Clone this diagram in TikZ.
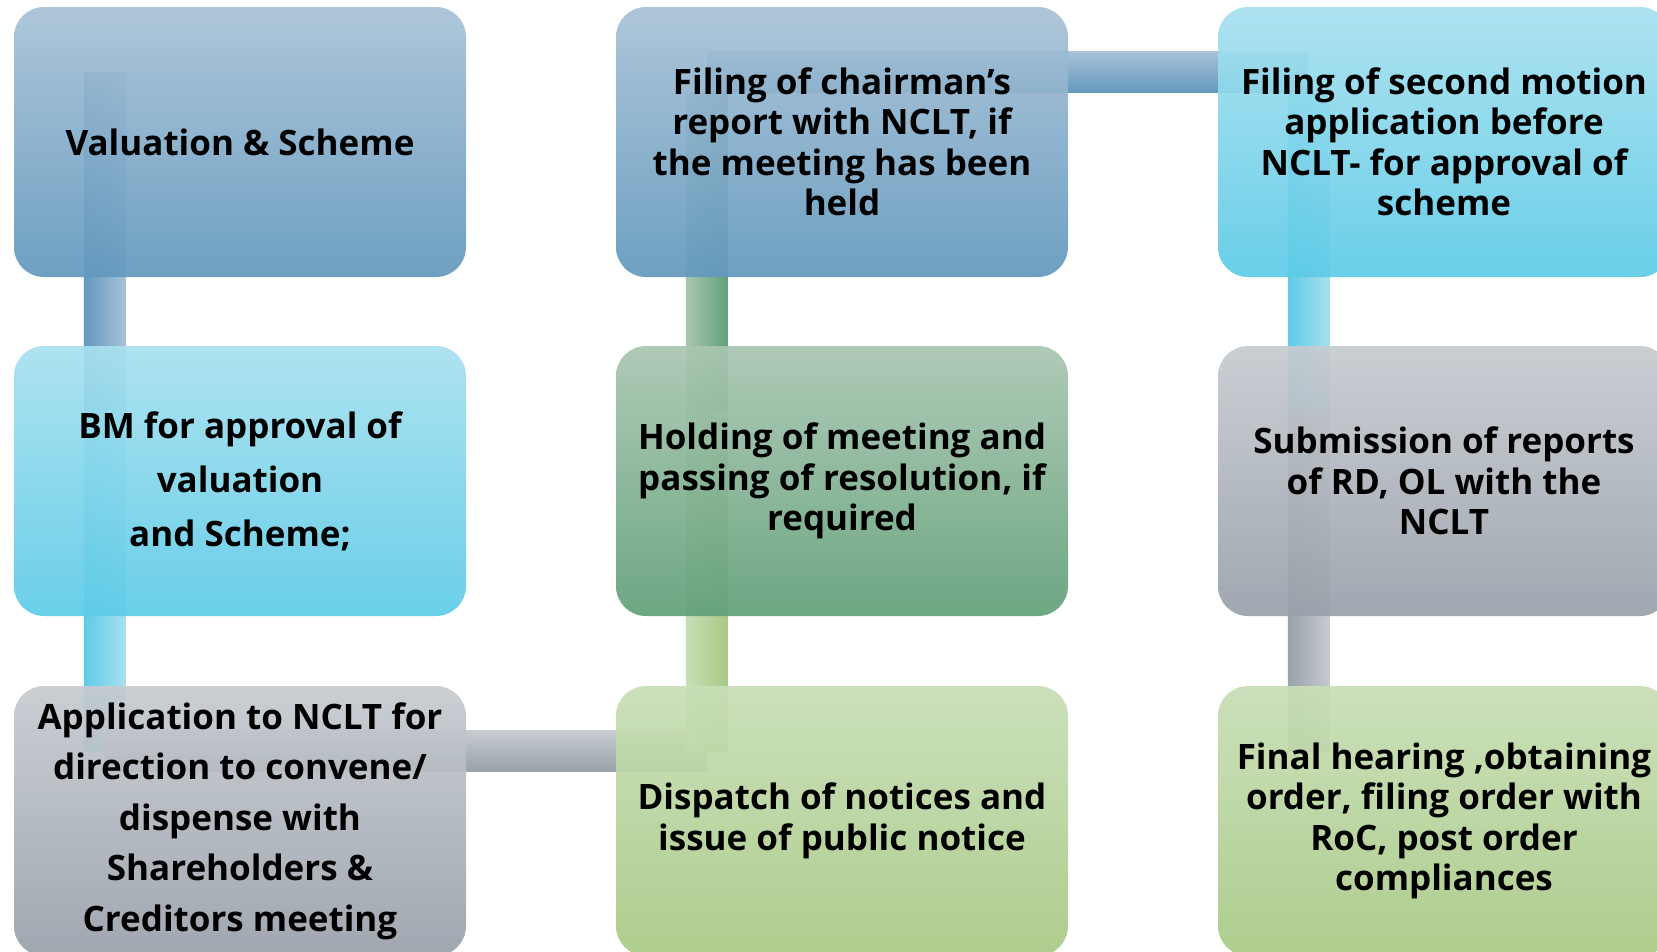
\documentclass[tikz,border=0pt]{standalone}
\usepackage{fontspec}
\setmainfont{Open Sans}
\usetikzlibrary{backgrounds}

\definecolor{blueTop}{HTML}{A8C1D6}
\definecolor{blueBot}{HTML}{6399BE}
\definecolor{cyanTop}{HTML}{A8E0EF}
\definecolor{cyanBot}{HTML}{5ECBE7}
\definecolor{grayTop}{HTML}{C6CBD0}
\definecolor{grayBot}{HTML}{99A1AA}
\definecolor{greenTop}{HTML}{A9C6B1}
\definecolor{greenBot}{HTML}{62A07A}
\definecolor{limeTop}{HTML}{C8DEB6}
\definecolor{limeBot}{HTML}{A8C985}

\begin{document}
\begin{tikzpicture}[x=1pt,y=1pt]
        \tikzset{box/.style = {rectangle, rounded corners=30pt, minimum width=452pt, minimum height=270pt,
                 inner sep=0pt, align=center, fill opacity=0.93, text opacity=1,
                 font=\fontsize{35}{40.5}\selectfont\bfseries}}
        \tikzset{bluebox/.style = {box, top color=blueTop, bottom color=blueBot}}
        \tikzset{cyanbox/.style = {box, top color=cyanTop, bottom color=cyanBot}}
        \tikzset{graybox/.style = {box, top color=grayTop, bottom color=grayBot}}
        \tikzset{greenbox/.style = {box, top color=greenTop, bottom color=greenBot}}
        \tikzset{limebox/.style = {box, top color=limeTop, bottom color=limeBot}}
        \useasboundingbox (0,0) rectangle (1657,-951);
        % boxes
        \node[bluebox] (val) at (240,-142) {Valuation \& Scheme};
        \node[cyanbox, font=\fontsize{35}{54}\selectfont\bfseries] (bm) at (240,-481)
            {BM for approval of\\ valuation\\ and Scheme;};
        \node[graybox, font=\fontsize{35}{50.5}\selectfont\bfseries] (app) at (240,-821)
            {Application to NCLT for\\ direction to convene/\\ dispense with\\ Shareholders \&\\ Creditors meeting};
        \node[limebox] (disp) at (842,-821) {Dispatch of notices and\\ issue of public notice};
        \node[greenbox] (hold) at (842,-481) {Holding of meeting and\\ passing of resolution, if\\ required};
        \node[bluebox] (chair) at (842,-142)
            {Filing of chairman’s\\ report with NCLT, if\\ the meeting has been\\ held};
        \node[cyanbox] (second) at (1444,-142)
            {Filing of second motion\\ application before\\ NCLT- for approval of\\ scheme};
        \node[graybox] (subm) at (1444,-481)
            {Submission of reports\\ of RD, OL with the\\ NCLT};
        \node[limebox] (final) at (1444,-821)
            {Final hearing ,obtaining\\ order, filing order with\\ RoC, post order\\ compliances};
        % connectors
        \begin{scope}[on background layer]
        \shade[left color=blueBot, right color=blueTop]
            ([xshift=70pt,yshift=-66pt]val.north west) rectangle ([xshift=112pt,yshift=-65pt]bm.north west);
        \shade[left color=cyanBot, right color=cyanTop]
            ([xshift=70pt,yshift=-65pt]bm.north west) rectangle ([xshift=112pt,yshift=-66pt]app.north west);
        \shade[top color=grayTop, bottom color=grayBot]
            ([xshift=91pt,yshift=-45pt]app.north west) rectangle ([xshift=91pt,yshift=-86pt]disp.north west);
        \shade[left color=limeTop, right color=limeBot]
            ([xshift=70pt,yshift=-66pt]disp.north west) rectangle ([xshift=112pt,yshift=-65pt]hold.north west);
        \shade[left color=greenTop, right color=greenBot]
            ([xshift=70pt,yshift=-65pt]hold.north west) rectangle ([xshift=112pt,yshift=-86pt]chair.north west);
        \shade[top color=blueTop, bottom color=blueBot]
            ([xshift=91pt,yshift=-45pt]chair.north west) rectangle ([xshift=90pt,yshift=-86pt]second.north west);
        \shade[left color=cyanBot, right color=cyanTop]
            ([xshift=70pt,yshift=-86pt]second.north west) rectangle ([xshift=112pt,yshift=-65pt]subm.north west);
        \shade[left color=grayBot, right color=grayTop]
            ([xshift=70pt,yshift=-65pt]subm.north west) rectangle ([xshift=112pt,yshift=-66pt]final.north west);
        \end{scope}
\end{tikzpicture}
\end{document}
